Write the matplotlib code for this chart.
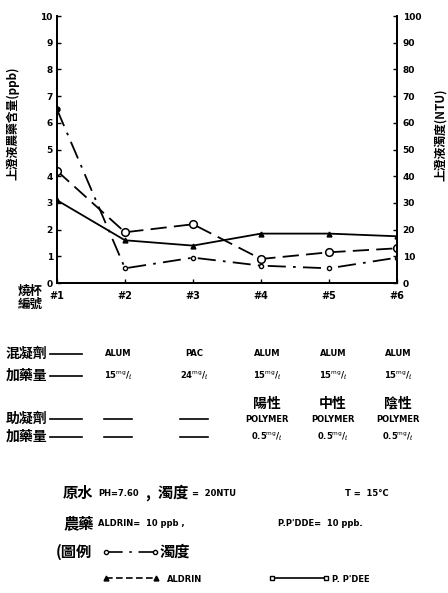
import numpy as np
import matplotlib
matplotlib.use("Agg")
import matplotlib.pyplot as plt

plt.rcParams['font.family'] = ['Noto Sans CJK TC', 'DejaVu Sans']

# jar test results
jars = ["#1", "#2", "#3", "#4", "#5", "#6"]
turbidity = [65, 5.5, 9.5, 6.5, 5.5, 9.5]       # NTU, right axis
ppdde = [4.2, 1.9, 2.2, 0.9, 1.15, 1.3]         # ppb, left axis
aldrin = [3.1, 1.6, 1.4, 1.85, 1.85, 1.75]      # ppb, left axis

coagulant = ["ALUM", "PAC", "ALUM", "ALUM", "ALUM"]
coag_dose = ["15", "24", "15", "15", "15"]
aid_type = ["", "", "陽性", "中性", "陰性"]
aid_dose = ["", "", "0.5", "0.5", "0.5"]

W, H = 448, 593
fig = plt.figure(figsize=(W / 100, H / 100), dpi=100)


def fx(x):
    return x / W


def fy(y):
    return 1 - y / H


ax = fig.add_axes([fx(57), fy(283), fx(397) - fx(57), fy(16) - fy(283)])
ax2 = ax.twinx()

x = np.arange(len(jars))
ax.plot(x, aldrin, color="k", lw=1.3, marker="^", ms=3.5, mfc="k")
ax.plot(x, ppdde, color="k", lw=1.3, ls=(0, (9, 4)), marker="o", ms=5.5,
        mfc="white", mec="k", mew=1.1)
ax2.plot(x, turbidity, color="k", lw=1.3, ls=(0, (10, 4, 1.5, 4)), marker="o",
         ms=3, mfc="white", mec="k", mew=1.0)
ax2.plot(x[0], turbidity[0], "ko", ms=3.5)

ax.set_xlim(0, len(jars) - 1)
ax.set_ylim(0, 10)
ax2.set_ylim(0, 100)
ax.set_xticks(x)
ax.set_xticklabels(jars, fontsize=7, fontweight="bold", family="DejaVu Sans")
ax.set_yticks(range(0, 11))
ax.set_yticklabels([str(v) for v in range(0, 11)], fontsize=6.5, fontweight="bold",
                   family="DejaVu Sans")
ax2.set_yticks(range(0, 101, 10))
ax2.set_yticklabels([str(v) for v in range(0, 101, 10)], fontsize=6.5,
                    fontweight="bold", family="DejaVu Sans")
for a in (ax, ax2):
    a.spines["top"].set_visible(False)
    for s in a.spines.values():
        s.set_linewidth(1.3)
ax.tick_params(axis="y", direction="in", length=3, width=1, pad=3)
ax2.tick_params(axis="y", direction="in", length=3, width=1, pad=4)
ax.tick_params(axis="x", direction="in", length=3, width=1, pad=6)

ax.set_ylabel("上澄液農藥含量(ppb)", fontsize=8.5, fontweight="bold")
ax2.set_ylabel("上澄液濁度(NTU)", fontsize=8.5, fontweight="bold", rotation=90)
ax.yaxis.set_label_coords(-0.11, 0.60)
ax2.yaxis.set_label_coords(1.11, 0.555)

fig.text(fx(30), fy(298), "燒杯\n編號", fontsize=9, fontweight="bold",
         ha="center", va="center", linespacing=1.0)

# treatment table under the chart
col_x = [118, 194, 267, 333, 398]
row_y = [354, 376, 419, 437]
row_lbl = ["混凝劑", "加藥量", "助凝劑", "加藥量"]
for lbl, y in zip(row_lbl, row_y):
    fig.text(fx(6), fy(y), lbl, fontsize=10, fontweight="bold", va="center")
    fig.add_artist(plt.Line2D([fx(50), fx(82)], [fy(y), fy(y)], color="k", lw=1.2))

small = dict(fontsize=6, fontweight="bold", ha="center", va="center",
             family="DejaVu Sans")
for cx, c, d, t, a in zip(col_x, coagulant, coag_dose, aid_type, aid_dose):
    fig.text(fx(cx), fy(row_y[0]), c, **small)
    fig.text(fx(cx), fy(row_y[1]), d + r"$^{\rm mg}$/$_{\ell}$", **small)
    if t:
        fig.text(fx(cx), fy(404), t, fontsize=10, fontweight="bold",
                 ha="center", va="center")
        fig.text(fx(cx), fy(row_y[2]), "POLYMER", **small)
        fig.text(fx(cx), fy(row_y[3]), a + r"$^{\rm mg}$/$_{\ell}$", **small)
    else:
        for y in row_y[2:]:
            fig.add_artist(plt.Line2D([fx(cx - 14), fx(cx + 14)], [fy(y), fy(y)],
                                      color="k", lw=1.2))

# raw water conditions
big = dict(fontsize=11, fontweight="bold", va="center")
tiny = dict(fontsize=6, fontweight="bold", va="center", family="DejaVu Sans")
fig.text(fx(63), fy(493), "原水", **big)
fig.text(fx(98), fy(494), "PH=7.60", **tiny)
fig.text(fx(146), fy(493), ",  濁度", **big)
fig.text(fx(192), fy(494), "=  20NTU", **tiny)
fig.text(fx(345), fy(494), "T =  15°C", **tiny)
fig.text(fx(63), fy(523), "農藥", **big)
fig.text(fx(98), fy(524), "ALDRIN=  10 ppb ,", **tiny)
fig.text(fx(278), fy(524), "P.P'DDE=  10 ppb.", **tiny)

# legend
fig.text(fx(56), fy(552), "(圖例", **big)
fig.add_artist(plt.Line2D([fx(106), fx(155)], [fy(552), fy(552)], color="k",
                          lw=1.2, ls=(0, (10, 4, 1.5, 4)), marker="o", ms=3,
                          mfc="white", markevery=[0, 1]))
fig.text(fx(160), fy(552), "濁度", **big)
fig.add_artist(plt.Line2D([fx(106), fx(156)], [fy(578), fy(578)], color="k",
                          lw=1.2, ls=(0, (4, 2)), marker="^", ms=3.5, markevery=[0, 1]))
fig.text(fx(167), fy(579), "ALDRIN", **tiny)
fig.add_artist(plt.Line2D([fx(272), fx(326)], [fy(578), fy(578)], color="k",
                          lw=1.2, marker="s", ms=3.5, mfc="white", markevery=[0, 1]))
fig.text(fx(332), fy(579), "P. P'DEE", **tiny)

fig.savefig("out.png", dpi=100, facecolor="white")
